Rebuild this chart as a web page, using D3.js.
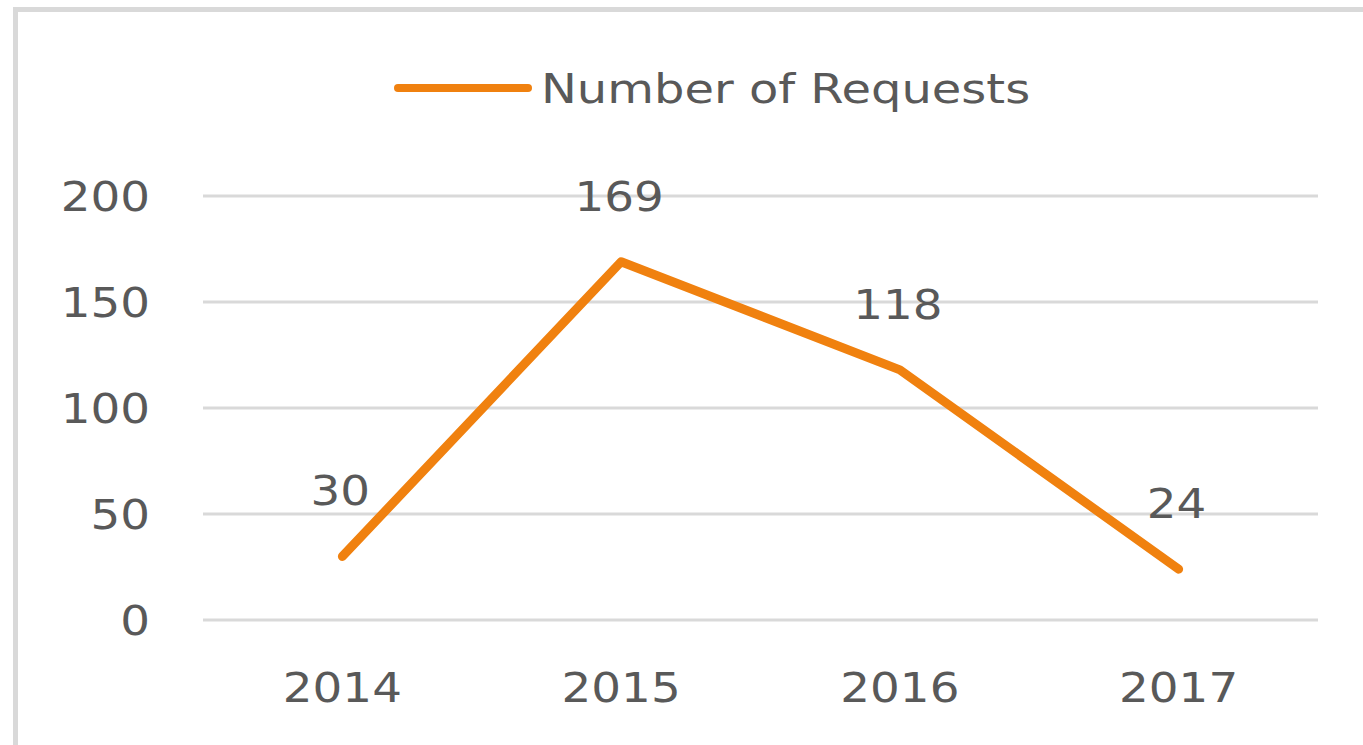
<!DOCTYPE html>
<html>
<head>
<meta charset="utf-8">
<script src="https://cdn.jsdelivr.net/npm/d3@7"></script>
<style>
  body { margin: 0; background: #fff; }
  svg text { font-family: "DejaVu Sans", sans-serif; fill: #595959; }
</style>
</head>
<body>
<div class="displayArea"></div>
<script>
// data
const years = ["2014", "2015", "2016", "2017"];
const requests = [30, 169, 118, 24];
const yTicks = [0, 50, 100, 150, 200];
const seriesName = "Number of Requests";

const width = 1363,
      height = 745,
      plotLeft = 203, plotRight = 1318,
      plotTop = 196, plotBottom = 620,
      stretch = 1.17, // text in the source is wider than normal
      orange = "#f0810f",
      grid = "#d9d9d9";

const svg = d3.select(".displayArea")
  .append("svg")
  .attr("width", width)
  .attr("height", height);

// outer chart frame
svg.append("rect")
  .attr("x", 15.5).attr("y", 9.5)
  .attr("width", 1400).attr("height", 800)
  .attr("fill", "none")
  .attr("stroke", grid)
  .attr("stroke-width", 5);

const x = d3.scaleBand().domain(years).range([plotLeft, plotRight]);
const y = d3.scaleLinear().domain([0, 200]).range([plotBottom, plotTop]);

// gridlines
svg.append("g")
  .selectAll("line")
  .data(yTicks)
  .join("line")
  .attr("x1", plotLeft).attr("x2", plotRight)
  .attr("y1", d => y(d)).attr("y2", d => y(d))
  .attr("stroke", grid)
  .attr("stroke-width", 3);

// y axis labels
const yAxis = svg.append("g")
  .attr("transform", `translate(${plotLeft - 53},0)`)
  .call(d3.axisLeft(y).tickValues(yTicks).tickSize(0).tickPadding(0));
yAxis.select(".domain").remove();
yAxis.selectAll("text")
  .attr("font-size", 40)
  .attr("font-family", "DejaVu Sans")
  .attr("fill", "#595959")
  .attr("dy", "0.36em")
  .attr("transform", `scale(${stretch},1)`);

// x axis labels
const xAxis = svg.append("g")
  .attr("transform", `translate(0,${plotBottom + 82})`)
  .call(d3.axisBottom(x).tickSize(0).tickPadding(0));
xAxis.select(".domain").remove();
xAxis.selectAll("text")
  .attr("font-size", 40)
  .attr("font-family", "DejaVu Sans")
  .attr("fill", "#595959")
  .attr("dy", 0)
  .attr("transform", `scale(${stretch},1)`);

// line
const line = d3.line()
  .x((d, i) => x(years[i]) + x.bandwidth() / 2)
  .y(d => y(d));

svg.append("path")
  .datum(requests)
  .attr("fill", "none")
  .attr("stroke", orange)
  .attr("stroke-width", 9)
  .attr("stroke-linejoin", "round")
  .attr("stroke-linecap", "round")
  .attr("d", line);

// data labels
svg.append("g")
  .selectAll("text")
  .data(requests)
  .join("text")
  .attr("transform", (d, i) =>
    `translate(${x(years[i]) + x.bandwidth() / 2 - 2},${y(d) - 51}) scale(${stretch},1)`)
  .attr("text-anchor", "middle")
  .attr("font-size", 40)
  .attr("fill", "#404040")
  .text(d => d);

// legend
const legend = svg.append("g").attr("transform", "translate(398,88)");
legend.append("line")
  .attr("x1", 0).attr("x2", 130)
  .attr("stroke", orange)
  .attr("stroke-width", 8)
  .attr("stroke-linecap", "round");
legend.append("text")
  .attr("transform", `translate(143,0) scale(${stretch},1)`)
  .attr("dy", "0.36em")
  .attr("font-size", 41)
  .text(seriesName);
</script>
</body>
</html>
